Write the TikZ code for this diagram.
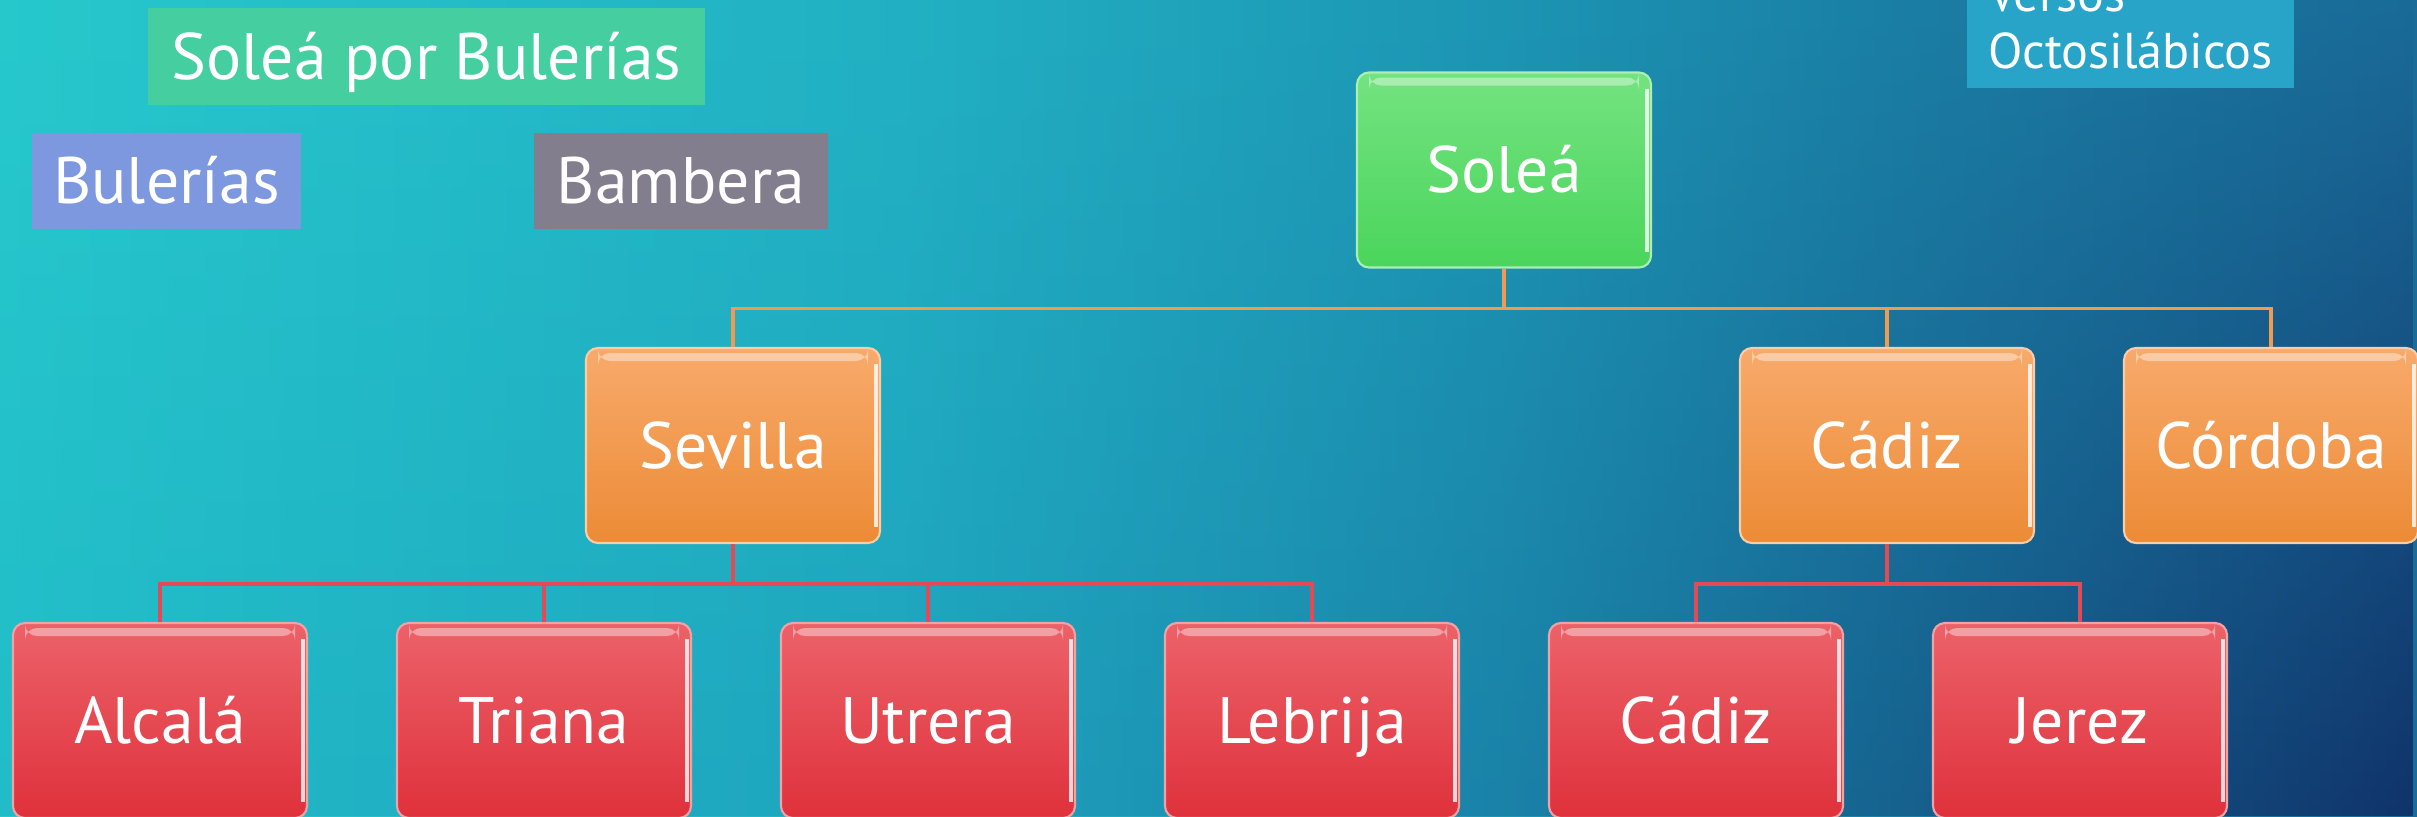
\documentclass[tikz,border=0pt]{standalone}
\usepackage{fontspec}
\setmainfont{PT Sans}
\usetikzlibrary{shapes.geometric, arrows, fadings}

\definecolor{seatopA}{HTML}{27C9CD}
\definecolor{seatopB}{HTML}{22B1C4}
\definecolor{seatopC}{HTML}{1D96B4}
\definecolor{seatopD}{HTML}{1B7FA5}
\definecolor{seatopE}{HTML}{1A6B98}
\definecolor{seabotA}{HTML}{21BCC8}
\definecolor{seabotB}{HTML}{1EA4BE}
\definecolor{seabotC}{HTML}{1A82A8}
\definecolor{seabotD}{HTML}{16628F}
\definecolor{seabotE}{HTML}{10336B}
\definecolor{greentop}{HTML}{74E380}
\definecolor{greenbot}{HTML}{4AD55C}
\definecolor{orangetop}{HTML}{F8AA6B}
\definecolor{orangebot}{HTML}{EC8B36}
\definecolor{redtop}{HTML}{EC6269}
\definecolor{redbot}{HTML}{DF313C}
\definecolor{orangeline}{HTML}{F29A4F}
\definecolor{redline}{HTML}{E24A55}
\definecolor{tealtag}{HTML}{45CEA0}
\definecolor{bluetag}{HTML}{7E98E0}
\definecolor{greytag}{HTML}{837E8D}
\definecolor{skytag}{HTML}{27A4C7}

\pgfdeclarehorizontalshading{seatop}{100bp}{color(0bp)=(seatopA); color(25bp)=(seatopA); color(43.6bp)=(seatopB);
  color(56bp)=(seatopC); color(64.3bp)=(seatopD); color(75bp)=(seatopE); color(100bp)=(seatopE)}
\pgfdeclarehorizontalshading{seabot}{100bp}{color(0bp)=(seabotA); color(25bp)=(seabotA); color(43.6bp)=(seabotB);
  color(56bp)=(seabotC); color(64.3bp)=(seabotD); color(75bp)=(seabotE); color(100bp)=(seabotE)}
\tikzfading[name=fade down, top color=transparent!100, bottom color=transparent!0]

\tikzstyle{every node}=[font=\fontsize{18.7}{22}\selectfont, text=white, text height=14.5pt, text depth=1.5pt]
\tikzstyle{palo} = [rectangle, rounded corners=0.12cm, minimum width=2.94cm, minimum height=1.95cm, text centered, line width=0.6pt,
  path picture={\fill [white, opacity=0.4] ([xshift=0.12cm, yshift=-0.05cm]path picture bounding box.north west) rectangle ([xshift=-0.12cm, yshift=-0.13cm]path picture bounding box.north east);
    \draw [white, opacity=0.8, line width=1.2pt] ([xshift=-0.04cm, yshift=-0.16cm]path picture bounding box.north east) -- ([xshift=-0.04cm, yshift=0.16cm]path picture bounding box.south east);}]
\tikzstyle{root} = [palo, top color=greentop, bottom color=greenbot, draw=greentop!60!white]
\tikzstyle{city} = [palo, top color=orangetop, bottom color=orangebot, draw=orangetop!60!white]
\tikzstyle{town} = [palo, top color=redtop, bottom color=redbot, draw=redtop!60!white]
\tikzstyle{tag} = [rectangle, minimum height=0.96cm, text centered]
\tikzstyle{oline} = [line width=0.9pt, draw=orangeline]
\tikzstyle{rline} = [line width=0.9pt, draw=redline]

\begin{document}
\begin{tikzpicture}
        \useasboundingbox (0,0) rectangle (24.17,8.16);
        \shade [shading=seatop] (0,0) rectangle (24.17,8.16);
        \shade [shading=seabot, path fading=fade down] (0,0) rectangle (24.17,8.16);

        % etiquetas sueltas
        \node (porbul) [tag, fill=tealtag, minimum width=5.57cm, xshift=4.265cm, yshift=7.595cm] {Soleá por Bulerías};
        \node (bul) [tag, fill=bluetag, minimum width=2.69cm, xshift=1.665cm, yshift=6.35cm] {Bulerías};
        \node (bam) [tag, fill=greytag, minimum width=2.94cm, xshift=6.81cm, yshift=6.35cm] {Bambera};
        \node (versos) [rectangle, fill=skytag, anchor=south, align=left, inner xsep=6pt, inner ysep=5.7pt, text height=, text depth=0pt,
          font=\fontsize{14.3}{16.2}\selectfont, xshift=21.305cm, yshift=7.27cm] {Versos\\Octosilábicos};

        \node (solea) [root, xshift=15.04cm, yshift=6.46cm] {Soleá};

        \node (sevilla) [city, xshift=7.33cm, yshift=3.705cm] {Sevilla};
        \node (cadiz) [city, xshift=18.87cm, yshift=3.705cm] {Cádiz};
        \node (cordoba) [city, xshift=22.71cm, yshift=3.705cm] {Córdoba};

        \node (alcala) [town, xshift=1.6cm, yshift=0.955cm] {Alcalá};
        \node (triana) [town, xshift=5.44cm, yshift=0.955cm] {Triana};
        \node (utrera) [town, xshift=9.28cm, yshift=0.955cm] {Utrera};
        \node (lebrija) [town, xshift=13.12cm, yshift=0.955cm] {Lebrija};
        \node (cadizb) [town, xshift=16.96cm, yshift=0.955cm] {Cádiz};
        \node (jerez) [town, xshift=20.8cm, yshift=0.955cm] {Jerez};

        \draw [oline] (solea.south) -- ++(0,-0.4) -| (sevilla.north);
        \draw [oline] (solea.south) -- ++(0,-0.4) -| (cadiz.north);
        \draw [oline] (solea.south) -- ++(0,-0.4) -| (cordoba.north);

        \draw [rline] (sevilla.south) -- ++(0,-0.4) -| (alcala.north);
        \draw [rline] (sevilla.south) -- ++(0,-0.4) -| (triana.north);
        \draw [rline] (sevilla.south) -- ++(0,-0.4) -| (utrera.north);
        \draw [rline] (sevilla.south) -- ++(0,-0.4) -| (lebrija.north);
        \draw [rline] (cadiz.south) -- ++(0,-0.4) -| (cadizb.north);
        \draw [rline] (cadiz.south) -- ++(0,-0.4) -| (jerez.north);
      \end{tikzpicture}
\end{document}
